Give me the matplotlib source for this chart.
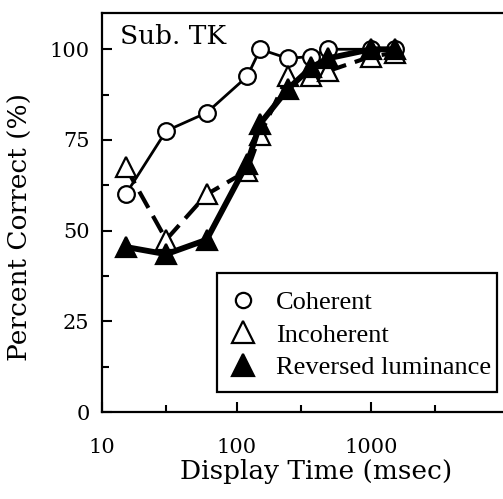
import matplotlib
matplotlib.use("Agg")
import matplotlib.pyplot as plt
from matplotlib.lines import Line2D
from matplotlib.patches import Rectangle
from matplotlib.ticker import FixedLocator, NullFormatter, FixedFormatter

# ===== DATA =====
display_time = [15, 30, 60, 120, 150, 240, 360, 480, 1000, 1500]
coherent = [60, 77.5, 82.5, 92.5, 100, 97.5, 98, 100, 100, 100]
incoherent = [67.5, 47.5, 60, 66.5, 76.5, 92.5, 92.5, 94, 98, 99]
reversed_lum = [45.5, 43.5, 47.5, 68.5, 79.5, 89, 95, 97.5, 100, 100]

legend_labels = ["Coherent", "Incoherent", "Reversed luminance"]
x_major = [10, 100, 1000]
x_major_labels = ["10", "100", "1000"]
x_minor = [30, 300, 3000]
y_major = [0, 25, 50, 75, 100]
y_minor = [12.5, 37.5, 62.5, 87.5]

SERIF = ["DejaVu Serif"]
TIMES = ["Liberation Serif", "DejaVu Serif"]

fig = plt.figure(figsize=(5.03, 4.99), dpi=100)
ax = fig.add_axes([102 / 503, 87 / 499, 403.5 / 503, 399 / 499])

ax.plot(display_time, coherent, "-", color="black", lw=2.0,
        marker="o", ms=12, mfc="white", mec="black", mew=1.6, zorder=2)
ax.plot(display_time, incoherent, color="black", lw=3.0, ls=(0, (4.5, 2.2)),
        marker="^", ms=14, mfc="white", mec="black", mew=1.6, zorder=3)
ax.plot(display_time, reversed_lum, "-", color="black", lw=4.2,
        marker="^", ms=14, mfc="black", mec="black", mew=1.6, zorder=4)

ax.set_xscale("log")
ax.set_xlim(10, 10000)
ax.set_ylim(0, 110)

ax.xaxis.set_major_locator(FixedLocator(x_major))
ax.xaxis.set_major_formatter(FixedFormatter(x_major_labels))
ax.xaxis.set_minor_locator(FixedLocator(x_minor))
ax.xaxis.set_minor_formatter(NullFormatter())
ax.yaxis.set_major_locator(FixedLocator(y_major))
ax.yaxis.set_minor_locator(FixedLocator(y_minor))

for s in ["left", "top", "bottom"]:
    ax.spines[s].set_linewidth(1.6)
ax.spines["right"].set_visible(False)

ax.tick_params(which="both", direction="in", width=1.5, top=False, right=False)
ax.tick_params(which="major", length=7)
ax.tick_params(which="minor", length=5)
ax.tick_params(axis="x", which="major", pad=19)
ax.tick_params(axis="y", which="major", pad=9)
for lab in ax.get_xticklabels() + ax.get_yticklabels():
    lab.set_family(SERIF)
    lab.set_fontsize(15)

ax.set_xlabel("Display Time (msec)", family=SERIF, fontsize=19)
ax.set_ylabel("Percent Correct (%)", family=SERIF, fontsize=19)
ax.xaxis.set_label_coords(0.53, -0.117)
ax.yaxis.set_label_coords(-0.17, 0.464)

ax.text(0.045, 0.942, "Sub. TK", transform=ax.transAxes, family=SERIF,
        fontsize=19, va="center", ha="left")

# legend box is tight on the right in the original, so draw the frame by hand
ax.add_patch(Rectangle((0.285, 0.05), 0.694, 0.298, transform=ax.transAxes,
                       facecolor="white", edgecolor="black", lw=1.6, zorder=5))

handles = [
    Line2D([], [], ls="none", marker="o", ms=11, mfc="white", mec="black", mew=1.6),
    Line2D([], [], ls="none", marker="^", ms=16, mfc="white", mec="black", mew=1.6),
    Line2D([], [], ls="none", marker="^", ms=16, mfc="black", mec="black", mew=1.6),
]
leg = ax.legend(handles, legend_labels, loc="lower left",
                bbox_to_anchor=(0.285, 0.05), borderaxespad=0,
                prop={"family": TIMES, "size": 19}, frameon=False,
                borderpad=0.5, handlelength=1.0, handletextpad=0.75,
                labelspacing=0.33)
leg.set_zorder(6)

fig.savefig("out.png", dpi=100)
